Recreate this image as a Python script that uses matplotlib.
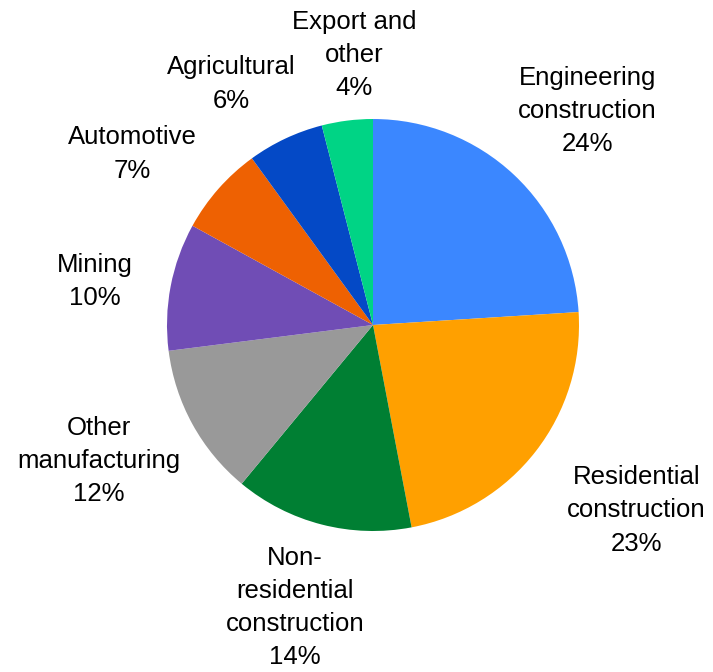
import matplotlib.pyplot as plt

labels = ['Engineering\nconstruction', 'Residential\nconstruction',
          'Non-\nresidential\nconstruction', 'Other\nmanufacturing',
          'Mining', 'Automotive', 'Agricultural', 'Export and\nother']
shares = [24, 23, 14, 12, 10, 7, 6, 4]
colors = ['#3b87ff', '#ffa000', '#007f33', '#999999',
          '#704db5', '#ee6102', '#0449c6', '#00d485']

# label anchor points (in units of pie radius)
label_pos = [(1.04, 1.04), (1.28, -0.90), (-0.38, -1.37), (-1.33, -0.66),
             (-1.35, 0.21), (-1.17, 0.83), (-0.69, 1.17), (-0.09, 1.31)]

plt.rcParams['font.family'] = ['Liberation Sans', 'DejaVu Sans']

fig = plt.figure(figsize=(7.13, 6.72), dpi=100)
r = 206
ax = fig.add_axes([(373 - r) / 713, (347 - r) / 672, 2 * r / 713, 2 * r / 672])
ax.pie(shares, colors=colors, startangle=90, counterclock=False, radius=1,
       wedgeprops=dict(linewidth=0))
ax.set_xlim(-1, 1)
ax.set_ylim(-1, 1)
ax.set_axis_off()

for lab, val, (x, y) in zip(labels, shares, label_pos):
    ax.text(x, y, f'{lab}\n{val}%', ha='center', va='center', fontsize=18.5,
            linespacing=1.48, clip_on=False)

fig.savefig('out.png', dpi=100)
